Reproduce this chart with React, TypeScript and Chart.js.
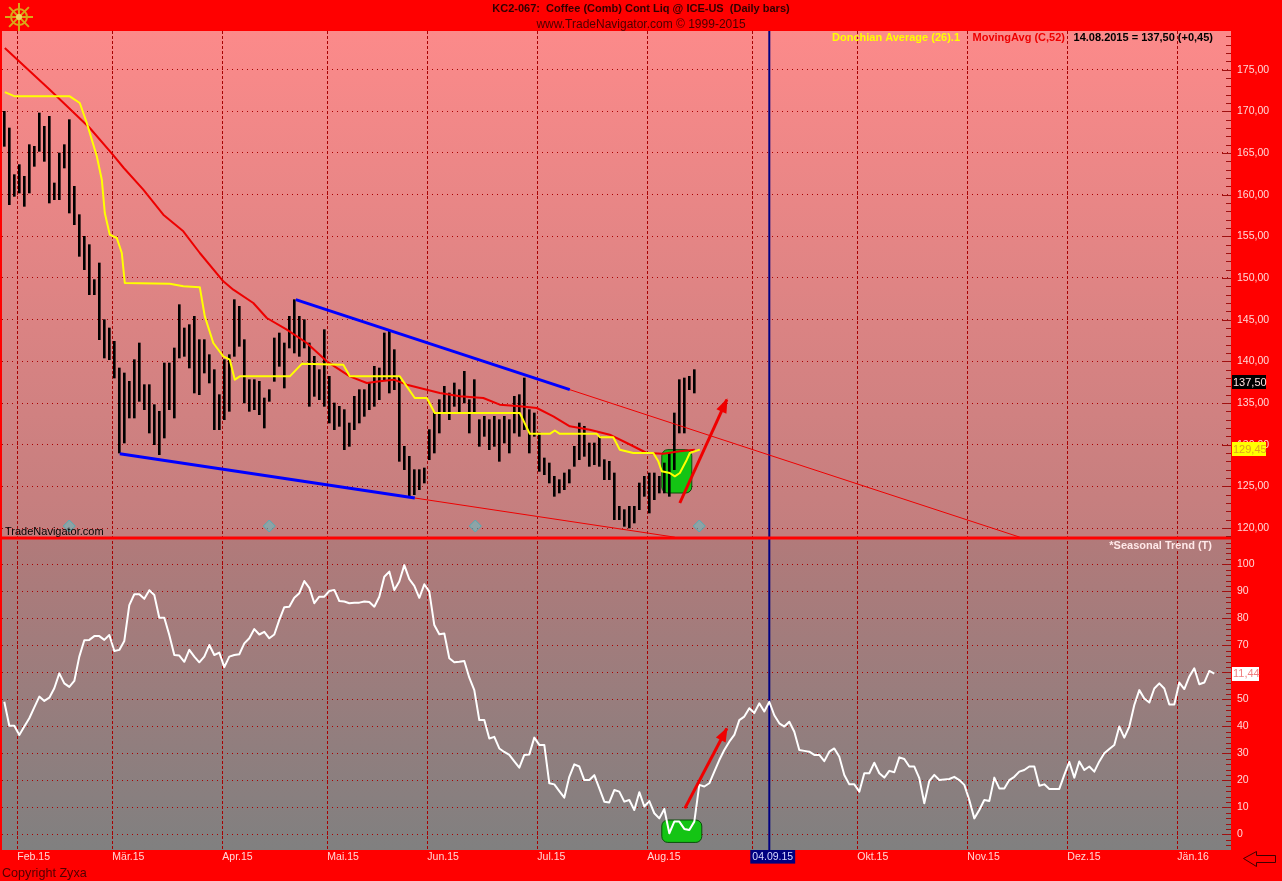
import React, { useEffect, useRef } from 'react';
import { Chart, registerables } from 'chart.js';

Chart.register(...registerables);

const FONT = '"Liberation Sans", Arial, Helvetica, sans-serif';
Chart.defaults.font.family = FONT;

// ---------- x axis: trading-day index, 0 = 02.02.2015 ----------
const monthStartIdx = [0, 19, 41, 62, 82, 104, 126, 147, 168, 190, 210, 232];
const monthTickLabels = ['Feb.15', 'Mär.15', 'Apr.15', 'Mai.15', 'Jun.15', 'Jul.15', 'Aug.15', '04.09.15', 'Okt.15', 'Nov.15', 'Dez.15', 'Jän.16'];
const markedTickLabel = '04.09.15';
const markedDateIdx = 150;

// ---------- price bars (daily high / low), first bar index -3 ----------
const barFirstIdx = -3;
const priceHigh = [
  170.0, 168.0, 162.4, 163.6, 162.2, 166.0, 165.8, 169.8, 168.2, 169.4,
  161.4, 165.0, 166.0, 169.0, 161.0, 157.6, 155.0, 154.0, 149.8, 151.8,
  145.0, 144.0, 142.4, 139.2, 138.6, 137.6, 140.2, 142.2, 137.2, 137.2,
  134.8, 134.0, 139.8, 139.8, 141.6, 146.8, 144.0, 144.4, 145.4, 142.6,
  142.6, 140.8, 139.0, 136.0, 140.2, 140.8, 147.4, 146.6, 142.6, 137.8,
  137.8, 137.6, 135.6, 136.6, 142.8, 143.4, 142.2, 145.4, 147.4, 145.4,
  145.0, 142.2, 140.6, 139.0, 143.8, 138.2, 135.0, 134.6, 134.2, 132.6,
  135.8, 136.6, 136.6, 137.4, 139.4, 139.2, 143.4, 143.6, 141.4, 138.2,
  129.8, 128.6, 127.0, 127.0, 127.2, 131.8, 133.8, 135.4, 137.0, 136.2,
  137.4, 136.6, 138.8, 135.4, 137.8, 133.0, 133.4, 133.0, 133.4, 133.0,
  133.4, 133.0, 135.8, 136.0, 138.0, 134.2, 133.8, 131.4, 128.4, 127.8,
  126.2, 125.8, 126.6, 127.0, 129.8, 132.6, 132.2, 130.2, 130.2, 131.0,
  128.2, 128.0, 126.6, 122.6, 122.2, 122.6, 122.6, 125.4, 126.2, 126.6,
  126.6, 126.2, 127.8, 129.0, 133.8, 137.8, 138.0, 138.2, 139.0,
];
const priceLow = [
  165.8, 158.8, 159.8, 160.2, 158.6, 160.2, 163.4, 165.2, 164.0, 159.0,
  159.4, 159.4, 163.2, 157.8, 156.4, 152.6, 151.0, 148.0, 148.0, 142.6,
  140.4, 140.2, 138.0, 129.0, 130.2, 133.2, 133.2, 135.2, 134.2, 131.4,
  130.0, 128.8, 130.8, 134.2, 133.2, 140.4, 140.6, 139.2, 136.2, 136.0,
  138.6, 137.4, 131.8, 131.8, 133.0, 134.0, 140.6, 141.8, 135.0, 134.0,
  134.2, 133.6, 132.0, 135.2, 137.6, 139.4, 136.8, 141.6, 141.0, 140.6,
  141.6, 134.6, 135.8, 135.4, 134.6, 132.6, 131.8, 132.2, 129.4, 129.8,
  131.8, 132.6, 133.4, 134.2, 134.6, 135.4, 137.8, 136.2, 136.6, 128.0,
  127.0, 123.8, 124.0, 124.6, 125.4, 128.2, 129.0, 131.4, 133.8, 133.0,
  134.6, 133.8, 135.0, 131.4, 133.8, 129.8, 131.0, 129.4, 129.8, 128.0,
  130.2, 129.0, 131.4, 131.0, 131.8, 129.0, 131.0, 126.8, 126.4, 125.4,
  123.8, 124.2, 124.6, 125.4, 127.4, 128.2, 128.6, 127.4, 127.6, 127.4,
  125.8, 125.8, 121.0, 121.0, 120.2, 120.0, 120.6, 122.2, 123.8, 121.8,
  123.4, 124.2, 124.2, 123.8, 127.0, 131.4, 131.4, 136.6, 136.2,
];
const lastClose = 137.5;
const lastDonchian = 129.45;

// ---------- MovingAvg (C,52) ----------
const maIdx = [-2.9, 6.1, 14.1, 18.7, 20.9, 24.8, 28.8, 32.8, 36.1, 40.8, 42.8, 46.8, 49.5, 53.5, 57.5, 61.5, 66.1, 69.5, 72.1, 74.9, 77.5, 80.1, 84.1, 88.1, 92.8, 96.1, 100.1, 103.5, 106.8, 110.1, 114.1, 118.1, 121.5, 125.5, 128.8, 132.1, 135.1];
const maVal = [177.6, 172.6, 168.0, 164.8, 163.2, 160.6, 157.6, 155.6, 153.0, 149.6, 148.6, 147.0, 145.2, 143.8, 142.2, 140.0, 138.2, 137.4, 137.6, 137.8, 137.2, 136.8, 136.2, 135.8, 135.6, 134.8, 134.6, 134.4, 133.4, 132.2, 131.8, 131.2, 130.2, 129.0, 128.9, 129.2, 129.4];

// ---------- Donchian Average (26) ----------
const donIdx = [-2.9, -0.9, 10.1, 12.1, 13.5, 15.5, 16.5, 17.1, 18.1, 19.5, 20.5, 21.1, 30.1, 32.8, 36.1, 37.1, 38.8, 40.8, 42.1, 43.1, 44.1, 54.1, 56.5, 64.8, 66.1, 76.1, 79.1, 81.5, 83.1, 100.1, 102.1, 106.1, 107.1, 108.1, 115.5, 116.1, 118.8, 120.1, 122.8, 126.8, 127.8, 128.5, 130.1, 131.1, 132.1, 133.5, 134.1, 136.1];
const donVal = [172.3, 171.8, 171.8, 171.0, 168.6, 164.6, 161.8, 157.8, 155.2, 154.8, 153.0, 149.4, 149.3, 149.0, 148.9, 145.4, 142.2, 140.6, 140.2, 137.8, 138.2, 138.2, 139.7, 139.6, 138.2, 138.2, 135.6, 135.6, 133.8, 133.8, 131.3, 131.3, 131.7, 131.3, 131.3, 130.9, 130.9, 129.4, 129.0, 129.0, 128.0, 126.8, 126.6, 126.2, 126.6, 128.2, 129.0, 129.4];

// ---------- drawn trend lines / arrows (index, value) ----------
const upperTrendIdx = [55.3, 110.1];
const upperTrendVal = [147.4, 136.6];
const lowerTrendIdx = [20.1, 79.1];
const lowerTrendVal = [128.9, 123.6];
const upperExtIdx = [110.1, 200.1];
const upperExtVal = [136.6, 118.9];
const lowerExtIdx = [79.1, 131.1];
const lowerExtVal = [123.6, 118.9];
const priceArrowIdx = [132.1, 141.5];
const priceArrowVal = [123.0, 135.4];
const seasonArrowIdx = [133.1, 141.5];
const seasonArrowVal = [9.6, 39.2];
// highlight boxes: [idxFrom, idxTo, valueLow, valueHigh]
const priceBox = [128.5, 134.5, 124.2, 129.4];
const seasonBox = [128.5, 136.5, -3.0, 5.3];
const markerIdx = [10, 50, 91.2, 136];
const markerVal = [120.24, 120.24, 120.24, 120.24];

// ---------- Seasonal Trend, first point index -3 ----------
const seasonFirstIdx = -3;
const seasonal = [
  49.1, 40.2, 40.2, 36.8, 39.9, 43.0, 47.0, 51.0, 49.4, 50.6,
  54.1, 59.6, 55.9, 54.6, 56.8, 65.8, 71.9, 72.0, 73.4, 73.4,
  72.0, 73.8, 67.9, 68.3, 71.6, 84.9, 88.9, 88.9, 87.2, 90.4,
  88.6, 80.2, 80.2, 73.8, 66.4, 66.2, 63.9, 68.3, 65.8, 63.7,
  65.8, 70.1, 66.4, 67.3, 61.9, 65.8, 66.4, 66.7, 70.7, 72.6,
  76.0, 74.0, 75.0, 72.6, 74.0, 79.4, 84.1, 84.3, 87.6, 89.3,
  93.8, 91.3, 85.6, 88.0, 88.0, 90.1, 90.5, 86.4, 86.2, 85.6,
  85.8, 85.8, 86.2, 86.0, 84.3, 88.0, 95.4, 97.3, 90.5, 93.6,
  99.7, 94.5, 92.0, 87.6, 92.6, 89.9, 77.5, 74.1, 74.4, 65.2,
  63.7, 63.9, 64.2, 58.0, 53.4, 42.3, 42.3, 35.5, 36.1, 31.8,
  30.5, 29.4, 27.0, 24.7, 29.4, 29.6, 35.8, 33.1, 33.1, 18.9,
  18.5, 16.0, 13.6, 21.3, 25.9, 25.1, 20.1, 20.1, 21.9, 17.0,
  12.1, 11.8, 16.4, 15.8, 12.1, 12.7, 9.0, 15.6, 10.3, 12.3,
  7.8, 5.9, 9.4, 0.4, 4.7, 4.7, 2.0, 1.6, 4.7, 18.3,
  17.7, 18.9, 23.2, 27.5, 31.2, 34.3, 36.8, 42.3, 43.6, 46.7,
  44.9, 48.5, 45.5, 49.1, 44.1, 41.1, 39.9, 41.7, 38.0, 31.2,
  30.9, 30.6, 29.4, 29.4, 27.1, 30.6, 31.8, 28.7, 22.0, 18.5,
  18.5, 15.8, 22.6, 22.6, 26.5, 22.6, 21.0, 23.5, 23.0, 28.5,
  27.9, 25.1, 25.1, 20.8, 11.5, 19.8, 22.0, 20.1, 20.3, 20.5,
  21.3, 20.1, 18.3, 12.7, 5.9, 9.0, 12.7, 12.3, 21.0, 17.0,
  17.0, 20.1, 21.3, 23.2, 23.8, 25.1, 25.1, 18.0, 18.5, 16.8,
  16.8, 16.8, 22.0, 26.8, 21.0, 27.0, 23.8, 25.1, 23.2, 27.0,
  30.0, 31.6, 33.1, 39.9, 35.8, 39.9, 47.9, 53.4, 50.3, 48.8,
  54.0, 55.9, 54.0, 48.1, 48.1, 56.2, 53.8, 58.4, 61.5, 55.6,
  56.2, 60.5, 59.5,
];
const seasonalTagText = '11,44';

// ---------- tick values & texts ----------
const priceTicks = [120, 125, 130, 135, 140, 145, 150, 155, 160, 165, 170, 175];
const seasonTicks = [0, 10, 20, 30, 40, 50, 60, 70, 80, 90, 100];
const titleText = 'KC2-067:  Coffee (Comb) Cont Liq @ ICE-US  (Daily bars)';
const subtitleText = 'www.TradeNavigator.com © 1999-2015';
const legendTexts = ['Donchian Average (26).1', 'MovingAvg (C,52)', '14.08.2015 = 137,50 (+0,45)'];
const upperPanelNote = 'TradeNavigator.com';
const lowerPanelTitle = '*Seasonal Trend (T)';
const footerText = 'Copyright Zyxa';

// ---------- axis ranges ----------
const X_MIN = -3.46;
const X_MAX = 242.34;
const PRICE_MIN = 118.8;
const PRICE_MAX = 179.64;
const SEASON_MIN = -5.81;
const SEASON_MAX = 109.74;

const GRID = '#a80000';
const AXIS_TEXT = '#ffd8d8';

const fmt2 = (v: number) => v.toFixed(2).replace('.', ',');
const pts = (xs: number[], ys: number[]) => xs.map((x, i) => ({ x, y: ys[i] }));

function roundRect(ctx: CanvasRenderingContext2D, x: number, y: number, w: number, h: number, r: number) {
  ctx.beginPath();
  ctx.moveTo(x + r, y);
  ctx.arcTo(x + w, y, x + w, y + h, r);
  ctx.arcTo(x + w, y + h, x, y + h, r);
  ctx.arcTo(x, y + h, x, y, r);
  ctx.arcTo(x, y, x + w, y, r);
  ctx.closePath();
}

const decorPlugin: any = {
  id: 'decor',
  beforeDraw(chart: any) {
    const { ctx, chartArea: ca, scales } = chart;
    const up = scales.y;
    const lo = scales.y2;
    ctx.save();
    ctx.fillStyle = '#ff0000';
    ctx.fillRect(0, 0, chart.width, chart.height);
    let g = ctx.createLinearGradient(0, up.top, 0, up.bottom);
    g.addColorStop(0, 'rgb(252,138,138)');
    g.addColorStop(1, 'rgb(194,126,126)');
    ctx.fillStyle = g;
    ctx.fillRect(ca.left, up.top, ca.right - ca.left, up.bottom - up.top);
    g = ctx.createLinearGradient(0, lo.top, 0, lo.bottom);
    g.addColorStop(0, 'rgb(178,122,122)');
    g.addColorStop(1, 'rgb(128,128,128)');
    ctx.fillStyle = g;
    ctx.fillRect(ca.left, lo.top, ca.right - ca.left, lo.bottom - lo.top);
    ctx.restore();
  },
  beforeDatasetsDraw(chart: any) {
    const { ctx, chartArea: ca, scales } = chart;
    const x = scales.x;
    ctx.save();
    const boxes: [number[], any][] = [[priceBox, scales.y], [seasonBox, scales.y2]];
    boxes.forEach(([b, ys]) => {
      const x0 = x.getPixelForValue(b[0]);
      const x1 = x.getPixelForValue(b[1]);
      const y0 = ys.getPixelForValue(b[3]);
      const y1 = ys.getPixelForValue(b[2]);
      roundRect(ctx, x0, y0, x1 - x0, y1 - y0, 6);
      ctx.fillStyle = '#14c414';
      ctx.fill();
      ctx.strokeStyle = '#0b4d0b';
      ctx.lineWidth = 1;
      ctx.stroke();
    });
    const xm = x.getPixelForValue(markedDateIdx);
    ctx.strokeStyle = '#000080';
    ctx.lineWidth = 2;
    ctx.beginPath();
    ctx.moveTo(xm, ca.top);
    ctx.lineTo(xm, ca.bottom);
    ctx.stroke();
    ctx.restore();
  },
  afterDatasetsDraw(chart: any) {
    const { ctx, chartArea: ca, scales } = chart;
    const y = scales.y;
    const y2 = scales.y2;
    ctx.save();

    // arrow heads
    chart.data.datasets.forEach((ds: any, i: number) => {
      if (!ds.isArrow) return;
      const p = chart.getDatasetMeta(i).data;
      const a = p[p.length - 2];
      const b = p[p.length - 1];
      const ang = Math.atan2(b.y - a.y, b.x - a.x);
      const L = 13;
      const W = 5.5;
      ctx.fillStyle = ds.borderColor;
      ctx.beginPath();
      ctx.moveTo(b.x + 1.5 * Math.cos(ang), b.y + 1.5 * Math.sin(ang));
      ctx.lineTo(b.x - L * Math.cos(ang) + W * Math.sin(ang), b.y - L * Math.sin(ang) - W * Math.cos(ang));
      ctx.lineTo(b.x - L * Math.cos(ang) - W * Math.sin(ang), b.y - L * Math.sin(ang) + W * Math.cos(ang));
      ctx.closePath();
      ctx.fill();
    });

    // panel separator
    ctx.fillStyle = '#ff0000';
    ctx.fillRect(0, y.bottom - 1.5, chart.width, 3);

    // axis tick marks (inside the panels)
    ctx.strokeStyle = '#a01010';
    ctx.lineWidth = 1;
    ctx.beginPath();
    for (let v = 119; v <= 179; v++) {
      const py = Math.round(y.getPixelForValue(v)) + 0.5;
      const len = v % 5 === 0 ? 9 : 5;
      ctx.moveTo(ca.right - len, py);
      ctx.lineTo(ca.right, py);
    }
    for (let v = -4; v <= 108; v += 2) {
      const py = Math.round(y2.getPixelForValue(v)) + 0.5;
      const len = v % 10 === 0 ? 9 : 5;
      ctx.moveTo(ca.right - len, py);
      ctx.lineTo(ca.right, py);
    }
    ctx.stroke();

    // value tags on the right axis
    const tag = (scale: any, v: number, text: string, bg: string, fg: string, w: number) => {
      const py = scale.getPixelForValue(v);
      ctx.fillStyle = bg;
      ctx.fillRect(ca.right + 1, Math.round(py) - 7, w, 14);
      ctx.font = `11px ${FONT}`;
      ctx.fillStyle = fg;
      ctx.textAlign = 'left';
      ctx.textBaseline = 'middle';
      ctx.fillText(text, ca.right + 2, py + 0.5);
    };
    tag(y, lastClose, fmt2(lastClose), '#000000', '#ffe0e0', 34);
    tag(y, lastDonchian, fmt2(lastDonchian), '#ffff00', '#e0a020', 34);
    tag(y2, seasonal[seasonal.length - 1], seasonalTagText, '#ffffff', '#f08080', 27);

    // texts
    const T = (s: string, px: number, py: number, font: string, color: string, align: CanvasTextAlign = 'left') => {
      ctx.font = font;
      ctx.fillStyle = color;
      ctx.textAlign = align;
      ctx.textBaseline = 'alphabetic';
      ctx.fillText(s, px, py);
    };
    const mid = chart.width / 2;
    T(titleText, mid, 12, `bold 11px ${FONT}`, '#300000', 'center');
    T(subtitleText, mid, 28, `12px ${FONT}`, '#4a0000', 'center');
    T(legendTexts[2], 1213, 41, `bold 11px ${FONT}`, '#000000', 'right');
    T(legendTexts[1], 1065, 41, `bold 11px ${FONT}`, '#ee0000', 'right');
    T(legendTexts[0], 960, 41, `bold 11px ${FONT}`, '#ffff00', 'right');
    T(upperPanelNote, ca.left + 3, y.bottom - 3, `11px ${FONT}`, '#000000');
    T(lowerPanelTitle, 1212, y2.top + 11, `bold 11px ${FONT}`, '#ffe8e8', 'right');
    T(footerText, 2, 876.5, `12.6px ${FONT}`, '#500000');

    // logo (ship wheel)
    const cx = 19;
    const cy = 17;
    ctx.strokeStyle = '#d8a818';
    ctx.lineWidth = 2;
    ctx.beginPath();
    ctx.arc(cx, cy, 8, 0, Math.PI * 2);
    ctx.stroke();
    ctx.beginPath();
    for (let i = 0; i < 8; i++) {
      const a = (i * Math.PI) / 4;
      ctx.moveTo(cx + Math.cos(a) * 2, cy + Math.sin(a) * 2);
      ctx.lineTo(cx + Math.cos(a) * 14, cy + Math.sin(a) * 14);
    }
    ctx.stroke();
    ctx.fillStyle = '#f4d060';
    ctx.beginPath();
    ctx.arc(cx, cy, 3, 0, Math.PI * 2);
    ctx.fill();

    // back arrow icon
    ctx.strokeStyle = '#400000';
    ctx.lineWidth = 1;
    ctx.beginPath();
    ctx.moveTo(1243.5, 858.5);
    ctx.lineTo(1256.5, 851.5);
    ctx.lineTo(1256.5, 855.5);
    ctx.lineTo(1275.5, 855.5);
    ctx.lineTo(1275.5, 862.5);
    ctx.lineTo(1256.5, 862.5);
    ctx.lineTo(1256.5, 866.5);
    ctx.closePath();
    ctx.stroke();

    ctx.restore();
  },
};

function buildConfig(): any {
  const lineBase = { type: 'line', pointRadius: 0, pointHoverRadius: 0, tension: 0, fill: false, borderJoinStyle: 'round' };
  return {
    type: 'bar',
    data: {
      datasets: [
        {
          type: 'bar',
          yAxisID: 'y',
          data: priceHigh.map((h, i) => ({ x: barFirstIdx + i, y: [priceLow[i], h] })),
          backgroundColor: '#000000',
          borderWidth: 0,
          barThickness: 2,
          order: 10,
        },
        { ...lineBase, yAxisID: 'y', data: pts(maIdx, maVal), borderColor: '#ee0000', borderWidth: 2, order: 5 },
        { ...lineBase, yAxisID: 'y', data: pts(donIdx, donVal), borderColor: '#ffff00', borderWidth: 2, order: 4 },
        { ...lineBase, yAxisID: 'y', data: pts(upperTrendIdx, upperTrendVal), borderColor: '#0000ff', borderWidth: 3, order: 3 },
        { ...lineBase, yAxisID: 'y', data: pts(lowerTrendIdx, lowerTrendVal), borderColor: '#0000ff', borderWidth: 3, order: 3 },
        { ...lineBase, yAxisID: 'y', data: pts(upperExtIdx, upperExtVal), borderColor: '#ee0000', borderWidth: 1, order: 3 },
        { ...lineBase, yAxisID: 'y', data: pts(lowerExtIdx, lowerExtVal), borderColor: '#ee0000', borderWidth: 1, order: 3 },
        { ...lineBase, yAxisID: 'y', data: pts(priceArrowIdx, priceArrowVal), borderColor: '#f00000', borderWidth: 3, order: 2, isArrow: true },
        {
          ...lineBase,
          yAxisID: 'y2',
          data: seasonal.map((v, i) => ({ x: seasonFirstIdx + i, y: v })),
          borderColor: '#ffffff',
          borderWidth: 2,
          order: 5,
        },
        { ...lineBase, yAxisID: 'y2', data: pts(seasonArrowIdx, seasonArrowVal), borderColor: '#f00000', borderWidth: 3, order: 2, isArrow: true },
        {
          type: 'scatter',
          yAxisID: 'y',
          data: pts(markerIdx, markerVal),
          pointStyle: 'rectRot',
          pointRadius: 6,
          pointBackgroundColor: 'rgba(90,200,205,0.5)',
          pointBorderColor: 'rgba(70,175,185,0.9)',
          pointBorderWidth: 1,
          order: 6,
        },
      ],
    },
    options: {
      responsive: false,
      animation: false,
      devicePixelRatio: 1,
      events: [],
      layout: { autoPadding: false, padding: { left: 2, top: 31, right: 0, bottom: 0 } },
      plugins: { legend: { display: false }, tooltip: { enabled: false }, title: { display: false } },
      scales: {
        x: {
          type: 'linear',
          min: X_MIN,
          max: X_MAX,
          offset: false,
          afterBuildTicks: (s: any) => {
            s.ticks = monthStartIdx.map((i) => ({ value: i - 0.4 }));
          },
          afterFit: (s: any) => {
            s.height = 31;
          },
          grid: { offset: false, color: GRID, lineWidth: 1, drawTicks: false },
          border: { display: false, dash: [3, 2] },
          ticks: {
            autoSkip: false,
            maxRotation: 0,
            minRotation: 0,
            align: 'start',
            padding: 1,
            font: { size: 10.5, family: FONT },
            color: (c: any) => (monthTickLabels[c.index] === markedTickLabel ? '#d8d8ff' : AXIS_TEXT),
            callback: (_v: any, i: number) => monthTickLabels[i],
            showLabelBackdrop: (c: any) => monthTickLabels[c.index] === markedTickLabel,
            backdropColor: '#000080',
            backdropPadding: { left: 2, right: 2, top: 1, bottom: 0 },
          },
        },
        y: {
          type: 'linear',
          position: 'right',
          stack: 'panels',
          stackWeight: 507,
          weight: 0,
          min: PRICE_MIN,
          max: PRICE_MAX,
          beginAtZero: false,
          afterBuildTicks: (s: any) => {
            s.ticks = priceTicks.map((v) => ({ value: v }));
          },
          afterFit: (s: any) => {
            s.width = 51;
          },
          grid: { color: GRID, lineWidth: 1, drawTicks: false },
          border: { display: false, dash: [1, 4] },
          ticks: { padding: 6, font: { size: 10.5, family: FONT }, color: AXIS_TEXT, callback: (v: number) => fmt2(v) },
        },
        y2: {
          type: 'linear',
          position: 'right',
          stack: 'panels',
          stackWeight: 312,
          weight: 1,
          min: SEASON_MIN,
          max: SEASON_MAX,
          beginAtZero: false,
          afterBuildTicks: (s: any) => {
            s.ticks = seasonTicks.map((v) => ({ value: v }));
          },
          afterFit: (s: any) => {
            s.width = 51;
          },
          grid: { color: GRID, lineWidth: 1, drawTicks: false },
          border: { display: false, dash: [1, 4] },
          ticks: { padding: 6, font: { size: 10.5, family: FONT }, color: AXIS_TEXT, callback: (v: number) => String(v) },
        },
      },
    },
    plugins: [decorPlugin],
  };
}

export default function App() {
  const ref = useRef<HTMLCanvasElement>(null);
  useEffect(() => {
    document.body.style.margin = '0';
    document.body.style.overflow = 'hidden';
    const chart = new Chart(ref.current as HTMLCanvasElement, buildConfig());
    return () => chart.destroy();
  }, []);
  return (
    <div style={{ position: 'absolute', left: 0, top: 0, width: 1282, height: 881 }}>
      <canvas ref={ref} width={1282} height={881} style={{ display: 'block' }} />
    </div>
  );
}
